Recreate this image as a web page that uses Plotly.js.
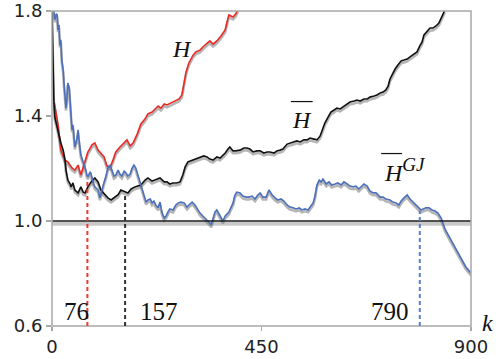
<!DOCTYPE html>
<html>
<head>
<meta charset="utf-8">
<script src="https://cdn.plot.ly/plotly-3.0.1.min.js"></script>
<style>html,body{margin:0;padding:0;background:#fff;}#chart{width:496px;height:359px;}</style>
</head>
<body>
<div id="chart"></div>
<script>
// ---- data ----
const redK = [5,13,19,28,34,43,49,56,62,71,77,86,92,99,105,112,118,125,131,137,146,155,161,168,174,183,191,200,206,215,221,228,234,241,247,256,264,273,279,284,288,294,303,309,318,324,333,339,346,354,363,372,376,380,389,395,400];
const redV = [1.45,1.366,1.27,1.232,1.225,1.202,1.194,1.213,1.175,1.225,1.263,1.290,1.297,1.27,1.259,1.244,1.21,1.206,1.232,1.263,1.282,1.30,1.309,1.286,1.297,1.331,1.37,1.389,1.408,1.415,1.427,1.438,1.43,1.446,1.442,1.45,1.457,1.465,1.48,1.53,1.568,1.602,1.632,1.644,1.651,1.663,1.678,1.686,1.674,1.686,1.705,1.728,1.758,1.785,1.777,1.789,1.81];

const blackK = [0,2,4,6,11,13,17,19,24,28,30,34,39,41,45,49,56,60,62,67,71,77,84,92,99,105,114,120,127,135,142,148,157,163,170,178,191,200,206,215,221,232,241,247,253,260,268,275,281,286,292,303,311,318,326,333,339,346,354,361,372,378,382,389,395,404,412,419,425,432,440,447,455,462,468,477,483,490,496,505,511,518,526,533,541,548,554,563,569,576,580,586,593,599,606,612,619,625,634,640,649,655,662,670,677,683,692,698,705,711,717,722,726,730,737,743,750,756,763,769,778,784,790,795,799,806,812,818,825,831,836,840,844];
const blackV = [1.80,1.613,1.461,1.396,1.354,1.347,1.316,1.297,1.27,1.232,1.194,1.156,1.141,1.13,1.145,1.118,1.107,1.126,1.13,1.11,1.107,1.13,1.149,1.164,1.149,1.118,1.10,1.088,1.08,1.091,1.10,1.118,1.11,1.107,1.122,1.13,1.137,1.156,1.164,1.152,1.156,1.164,1.149,1.149,1.141,1.145,1.145,1.149,1.175,1.206,1.225,1.232,1.236,1.24,1.248,1.244,1.236,1.232,1.244,1.24,1.259,1.274,1.282,1.267,1.267,1.27,1.278,1.278,1.274,1.263,1.267,1.267,1.259,1.263,1.263,1.259,1.267,1.27,1.274,1.293,1.297,1.301,1.305,1.301,1.309,1.309,1.316,1.312,1.309,1.324,1.343,1.373,1.396,1.415,1.423,1.43,1.427,1.434,1.446,1.453,1.457,1.461,1.457,1.465,1.465,1.472,1.476,1.48,1.488,1.491,1.499,1.514,1.541,1.556,1.579,1.594,1.61,1.613,1.617,1.625,1.636,1.644,1.667,1.682,1.709,1.724,1.735,1.735,1.743,1.754,1.773,1.789,1.804];

const blueK = [4,6,9,11,13,15,17,19,21,24,26,28,30,32,34,37,39,41,43,45,47,49,54,56,58,60,62,67,71,75,77,82,84,88,92,97,99,103,107,112,116,120,125,129,133,137,142,146,150,155,159,163,168,172,176,180,185,189,193,198,202,206,211,215,219,223,228,232,236,241,245,249,253,260,266,271,277,284,290,294,301,307,311,318,324,331,337,342,346,350,354,359,363,367,372,376,380,384,389,393,397,404,410,417,423,430,436,442,447,453,460,466,473,479,485,492,498,505,511,518,524,531,537,543,550,556,561,565,569,574,578,582,589,595,601,608,614,621,627,634,640,647,653,659,666,670,677,683,690,696,705,711,717,726,732,739,745,750,756,763,769,775,782,788,793,797,803,810,816,823,829,836,840,844,851,857,864,870,876,883,889,896,900];
const blueV = [1.80,1.766,1.789,1.785,1.728,1.747,1.67,1.69,1.613,1.575,1.518,1.48,1.43,1.461,1.526,1.507,1.442,1.392,1.347,1.366,1.328,1.282,1.316,1.347,1.309,1.278,1.251,1.225,1.206,1.175,1.168,1.187,1.179,1.149,1.13,1.122,1.118,1.088,1.118,1.149,1.171,1.202,1.213,1.187,1.171,1.175,1.194,1.179,1.171,1.19,1.183,1.171,1.179,1.202,1.213,1.202,1.171,1.156,1.126,1.095,1.072,1.08,1.084,1.069,1.076,1.061,1.05,1.072,1.034,1.011,1.019,1.034,1.046,1.042,1.061,1.069,1.072,1.069,1.053,1.061,1.072,1.061,1.05,1.03,1.019,1.008,0.996,0.985,1.011,1.034,1.042,1.027,1.011,1.0,1.019,1.027,1.034,1.05,1.069,1.099,1.11,1.107,1.095,1.091,1.091,1.095,1.084,1.099,1.107,1.091,1.091,1.118,1.099,1.088,1.08,1.084,1.076,1.061,1.053,1.05,1.046,1.05,1.042,1.046,1.042,1.057,1.069,1.095,1.137,1.156,1.149,1.16,1.141,1.149,1.137,1.141,1.145,1.137,1.149,1.141,1.133,1.13,1.133,1.122,1.133,1.141,1.133,1.114,1.107,1.107,1.091,1.091,1.084,1.08,1.072,1.069,1.061,1.076,1.088,1.099,1.084,1.072,1.061,1.05,1.042,1.046,1.05,1.05,1.042,1.038,1.03,1.011,0.992,0.97,0.947,0.928,0.905,0.89,0.867,0.844,0.825,0.81,0.802];

const markK = [76, 157, 790];
const markTop = [1.16, 1.10, 1.04];
const markLabels = ['76', '157', '790'];
const xTicks = [0, 450, 900];
const yTicks = [0.6, 1.0, 1.4, 1.8];

// ---- styles ----
const RED = '#ea2b25', BLACK = '#111111', BLUE = '#4c70bd';
const SHADOW = 'rgba(120,120,120,0.55)';
const shift = 0.009;
const yRange = [0.6, 1.8];

function line(k, v, color, width, axis) {
  return {x: k, y: v, type: 'scatter', mode: 'lines', yaxis: axis,
    line: {color: color, width: width, shape: 'linear'}, hoverinfo: 'skip', showlegend: false};
}

const traces = [
  line(redK, redV, SHADOW, 2.6, 'y'),
  line(blackK, blackV, SHADOW, 2.6, 'y'),
  line(blueK, blueV, SHADOW, 2.6, 'y'),
  line(redK, redV, RED, 1.6, 'y2'),
  line(blackK, blackV, BLACK, 1.6, 'y2'),
  line(blueK, blueV, BLUE, 1.6, 'y2')
];

const markColors = ['#f03a30', '#333333', '#5a7ec8'];
const shapes = [
  {type: 'line', xref: 'paper', yref: 'y2', x0: 0, x1: 1, y0: 1.0 - 0.0105, y1: 1.0 - 0.0105,
   line: {color: '#c9c9c9', width: 4}, layer: 'below'},
  {type: 'line', xref: 'paper', yref: 'y2', x0: 0, x1: 1, y0: 1.0, y1: 1.0,
   line: {color: '#1a1a1a', width: 1.5}, layer: 'above'},
  {type: 'rect', xref: 'paper', yref: 'paper', x0: 0, x1: 1, y0: 0, y1: 1,
   line: {color: '#a8a8a8', width: 1.5}, layer: 'above'}
];
markK.forEach((k, i) => {
  shapes.push({type: 'line', xref: 'x', yref: 'y2', x0: k, x1: k, y0: 0.6, y1: markTop[i],
    line: {color: markColors[i], width: 2, dash: '4px,3px'}, layer: 'above'});
});
// overlines for H-bar labels
shapes.push({type: 'line', xref: 'x', yref: 'y2', x0: 513, x1: 560, y0: 1.455, y1: 1.455, line: {color: '#111', width: 1.2}});
shapes.push({type: 'line', xref: 'x', yref: 'y2', x0: 707, x1: 752, y0: 1.257, y1: 1.257, line: {color: '#111', width: 1.2}});

const serif = 'Liberation Serif, Times New Roman, serif';
const annotations = [];
const labelX = [53, 230, 726];
markLabels.forEach((t, i) => {
  annotations.push({xref: 'x', yref: 'y2', x: labelX[i], y: 0.655, text: t, showarrow: false,
    font: {family: serif, size: 25, color: '#111'}, xanchor: 'center', yanchor: 'middle'});
});
annotations.push({xref: 'x', yref: 'y2', x: 279, y: 1.655, text: '<i>H</i>', showarrow: false,
  font: {family: serif, size: 24, color: '#111'}, xanchor: 'center', yanchor: 'middle'});
annotations.push({xref: 'x', yref: 'y2', x: 537, y: 1.385, text: '<i>H</i>', showarrow: false,
  font: {family: serif, size: 24, color: '#111'}, xanchor: 'center', yanchor: 'middle'});
annotations.push({xref: 'x', yref: 'y2', x: 708, y: 1.195, text: '<i>H</i><sup><i><span style="font-size:19px">GJ</span></i></sup>', showarrow: false,
  font: {family: serif, size: 24, color: '#111'}, xanchor: 'left', yanchor: 'middle'});
annotations.push({xref: 'paper', yref: 'paper', x: 1.04, y: 0.01, text: '<i>k</i>', showarrow: false,
  font: {family: serif, size: 24, color: '#111'}, xanchor: 'center', yanchor: 'middle'});

const tickFont = {family: 'DejaVu Sans, Verdana, sans-serif', size: 18, color: '#222'};
const layout = {
  width: 496, height: 359,
  margin: {l: 52, r: 25, t: 11, b: 33, pad: 0},
  paper_bgcolor: '#ffffff', plot_bgcolor: '#ffffff',
  showlegend: false,
  xaxis: {range: [0, 900], tickvals: xTicks, ticktext: xTicks.map(String), ticks: 'outside', ticklen: 4,
    tickcolor: '#a8a8a8', tickwidth: 1.5, showgrid: false, zeroline: false, showline: false,
    tickfont: tickFont, fixedrange: true},
  yaxis: {range: [yRange[0] + shift, yRange[1] + shift], visible: false, fixedrange: true},
  yaxis2: {overlaying: 'y', side: 'left', range: yRange, tickvals: yTicks, ticktext: yTicks.map(v => v.toFixed(1)),
    ticks: 'outside', ticklen: 5, tickcolor: '#a8a8a8', tickwidth: 1.5, showgrid: false, zeroline: false,
    showline: false, tickfont: tickFont, fixedrange: true},
  shapes: shapes,
  annotations: annotations
};

Plotly.newPlot('chart', traces, layout, {displayModeBar: false, staticPlot: true});
</script>
</body>
</html>
